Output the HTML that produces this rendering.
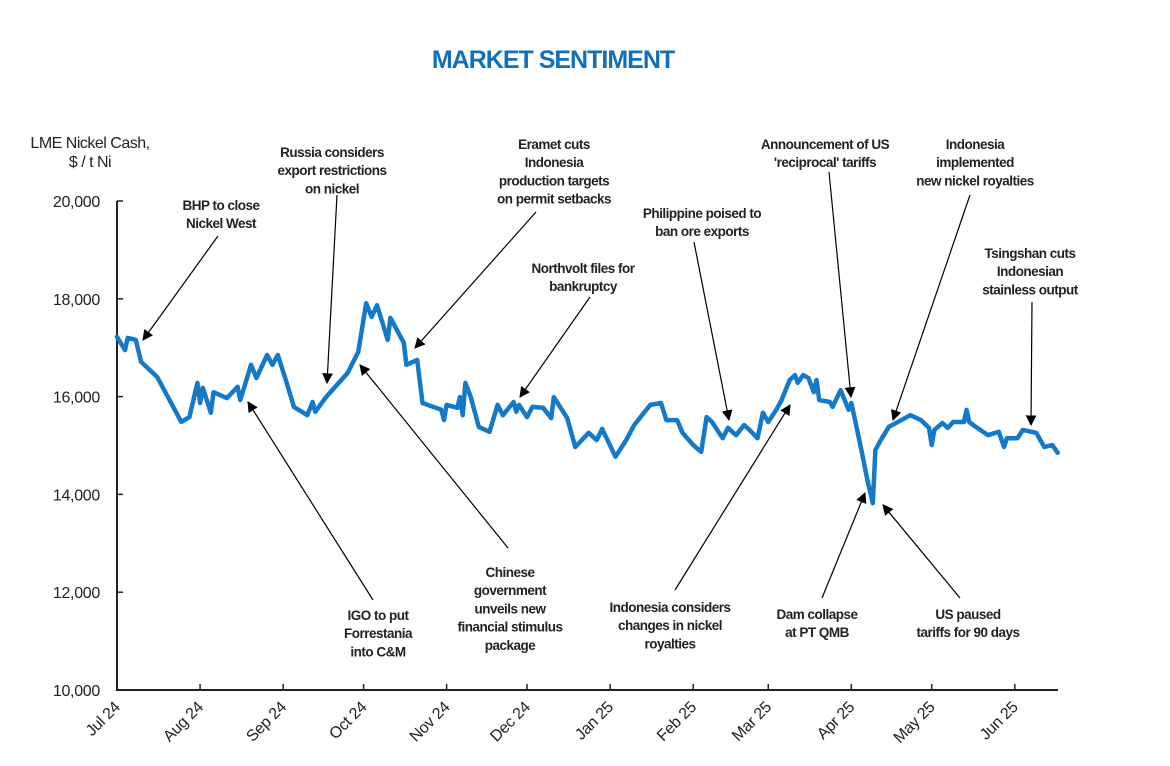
<!DOCTYPE html>
<html><head><meta charset="utf-8"><style>
html,body{margin:0;padding:0;background:#fff;}
svg{display:block;font-family:"Liberation Sans",sans-serif;}
.ann{font-size:13.5px;font-weight:bold;fill:#222;letter-spacing:-0.5px;}
.tick{font-size:16px;fill:#222;letter-spacing:-0.3px;}
</style></head><body>
<svg id="chart" width="1170" height="766" viewBox="0 0 1170 766">
<defs><marker id="ah" viewBox="0 0 10 10" refX="9" refY="5" markerWidth="9" markerHeight="9" orient="auto-start-reverse"><path d="M0,0 L10,5 L0,10 z" fill="#000"/></marker></defs>
<text x="553" y="68" text-anchor="middle" font-size="25" font-weight="bold" fill="#1170b9" letter-spacing="-1">MARKET SENTIMENT</text>
<text x="90" y="148" text-anchor="middle" font-size="16" fill="#222" letter-spacing="-0.5">LME Nickel Cash,</text>
<text x="90" y="167" text-anchor="middle" font-size="16" fill="#222" letter-spacing="-0.5">$ / t Ni</text>
<g id="axes"></g>
<g id="series"></g>
<g id="annots"></g>
</svg>
<script>
const tickValues=[10000,12000,14000,16000,18000,20000];
const monthLabels=["Jul 24","Aug 24","Sep 24","Oct 24","Nov 24","Dec 24","Jan 25","Feb 25","Mar 25","Apr 25","May 25","Jun 25"];
const monthDays=[0,31,62,92,123,153,184,215,243,274,304,335];
const days=[0,3,4,7,9,15,24,27,30,31,32,35,36,41,45,46,50,52,56,58,60,63,66,71,73,74,78,86,90,93,95,97,101,102,107,108,112,114,121,122,123,127,128,129,130,132,135,139,142,144,148,149,150,153,155,159,162,163,168,171,176,179,181,186,190,193,199,203,205,209,211,215,218,220,222,226,228,231,234,236,239,241,243,246,248,251,253,254,256,258,260,261,262,266,267,270,273,274,275,278,280,282,283,285,288,296,300,303,304,305,308,310,312,316,317,318,321,325,329,331,332,336,338,343,346,349,351];
const prices=[17220,16950,17200,17160,16710,16400,15480,15580,16280,15870,16180,15670,16090,15970,16200,15930,16650,16380,16850,16650,16850,16340,15790,15620,15890,15690,15990,16480,16910,17910,17630,17870,17160,17610,17100,16650,16750,15870,15730,15520,15830,15770,15990,15620,16280,15990,15380,15280,15830,15620,15890,15690,15830,15580,15790,15770,15560,15990,15560,14970,15260,15110,15340,14770,15110,15420,15830,15870,15520,15520,15260,15010,14870,15580,15480,15150,15360,15210,15420,15320,15150,15670,15480,15730,15930,16340,16440,16280,16440,16380,16090,16340,15930,15890,15790,16130,15730,15870,15620,14850,14290,13820,14910,15110,15380,15620,15520,15360,15010,15320,15460,15360,15480,15480,15730,15480,15360,15210,15280,14970,15150,15150,15320,15260,14970,15010,14850];

const X0=117,X1=1058,Y0=690,Y1=201;
const xs=d=>X0+d*2.68;
const ys=v=>Y0-(v-10000)/10000*(Y0-Y1);
const NS="http://www.w3.org/2000/svg";
function mk(tag,attrs,parent,txt){const e=document.createElementNS(NS,tag);for(const k in attrs)e.setAttribute(k,attrs[k]);if(txt!==undefined)e.textContent=txt;parent.appendChild(e);return e;}
const ax=document.getElementById('axes');
const yAxis=mk('path',{d:`M${X0},${Y1} V${Y0} H${X1}`,stroke:'#222','stroke-width':2,fill:'none'},ax);


tickValues.forEach(v=>{
  const y=ys(v);
  const t=mk('line',{x1:X0,x2:X0+6,y1:y,y2:y,stroke:'#222','stroke-width':1.5},ax);
  
  
  const l=mk('text',{x:100,y:y+6,'text-anchor':'end',class:'tick'},ax,v.toLocaleString('en-US'));
  
  
});
monthDays.forEach((d,i)=>{
  const x=xs(d);
  const t=mk('line',{x1:x,x2:x,y1:Y0,y2:Y0-6,stroke:'#222','stroke-width':1.5},ax);
  
  
  const l=mk('text',{x:x+4,y:Y0+18,'text-anchor':'end',class:'tick',transform:`rotate(-45 ${x+4} ${Y0+18})`},ax,monthLabels[i]);
  
  
});
const pts=days.map((d,i)=>`${xs(d).toFixed(1)},${ys(prices[i]).toFixed(1)}`).join(' ');
const line=mk('polyline',{points:pts,fill:'none',stroke:'#1479c8','stroke-width':4.5,'stroke-linejoin':'round','stroke-linecap':'round'},document.getElementById('series'));



const annTexts=[
 ["BHP to close","Nickel West"],
 ["Russia considers","export restrictions","on nickel"],
 ["Eramet cuts","Indonesia","production targets","on permit setbacks"],
 ["Philippine poised to","ban ore exports"],
 ["Northvolt files for","bankruptcy"],
 ["Announcement of US","'reciprocal' tariffs"],
 ["Indonesia","implemented","new nickel royalties"],
 ["Tsingshan cuts","Indonesian","stainless output"],
 ["IGO to put","Forrestania","into C&M"],
 ["Chinese","government","unveils new","financial stimulus","package"],
 ["Indonesia considers","changes in nickel","royalties"],
 ["Dam collapse","at PT QMB"],
 ["US paused","tariffs for 90 days"]
];
const annLayout=[
 [221,210,218,236,143,340],[332,157,337,195,327,383],[554,149,536,212,415,348],
 [702,218,694,242,729,420],[583,273,590,297,520,397],[825,149,829,172,851,397],
 [975,149,970,195,893,420],[1030,258,1032,302,1031,425],[378,620,373,600,248,402],
 [510,577,508,548,360,365],[670,612,675,590,790,405],[817,619,822,598,865,493],[968,619,960,598,883,505]
];
const ag=document.getElementById('annots');
annTexts.forEach((lines,i)=>{
  const [cx,ty,ax1,ay1,ax2,ay2]=annLayout[i];
  const g=mk('g',{},ag);
  
  
  const t=mk('text',{x:cx,y:ty,'text-anchor':'middle',class:'ann'},g);
  lines.forEach((s,j)=>{mk('tspan',{x:cx,dy:j?18.2:0},t,s);});
  const a=mk('line',{x1:ax1,y1:ay1,x2:ax2,y2:ay2,stroke:'#000','stroke-width':1.2,'marker-end':'url(#ah)'},g);
  
  
});
</script>
</body></html>
